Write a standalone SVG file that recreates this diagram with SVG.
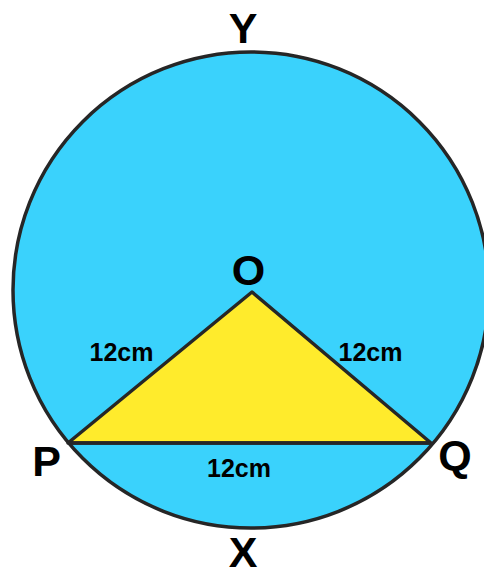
<svg xmlns="http://www.w3.org/2000/svg" width="484" height="577" viewBox="0 0 484 577">
<style>
.lbl{font-family:"Liberation Sans",Arial,sans-serif;font-weight:bold;fill:#000;text-anchor:middle}
.big{font-size:43px}
.sm{font-size:25px}
.ln{stroke:#262626;stroke-width:3.5;stroke-linejoin:round}
</style>
<rect width="484" height="577" fill="#fff"/>
<g id="circle">
<circle cx="251" cy="290" r="238" fill="#3ad2fc" class="ln"/>
</g>
<g id="triangle">
<polygon points="68,443 252,292 431,443" fill="#ffeb2c" class="ln"/>
</g>
<g id="connectors">
<line x1="68" y1="443" x2="431" y2="443" class="ln"/>
</g>
<g id="labels">
<text class="lbl big" x="243" y="43">Y</text>
<text class="lbl big" x="243" y="567">X</text>
<text class="lbl big" x="248.5" y="285">O</text>
<text class="lbl big" x="46.5" y="476">P</text>
<text class="lbl big" x="455" y="470">Q</text>
<text class="lbl sm" x="121.5" y="361">12cm</text>
<text class="lbl sm" x="370.5" y="361">12cm</text>
<text class="lbl sm" x="239" y="477">12cm</text>
</g>
</svg>
